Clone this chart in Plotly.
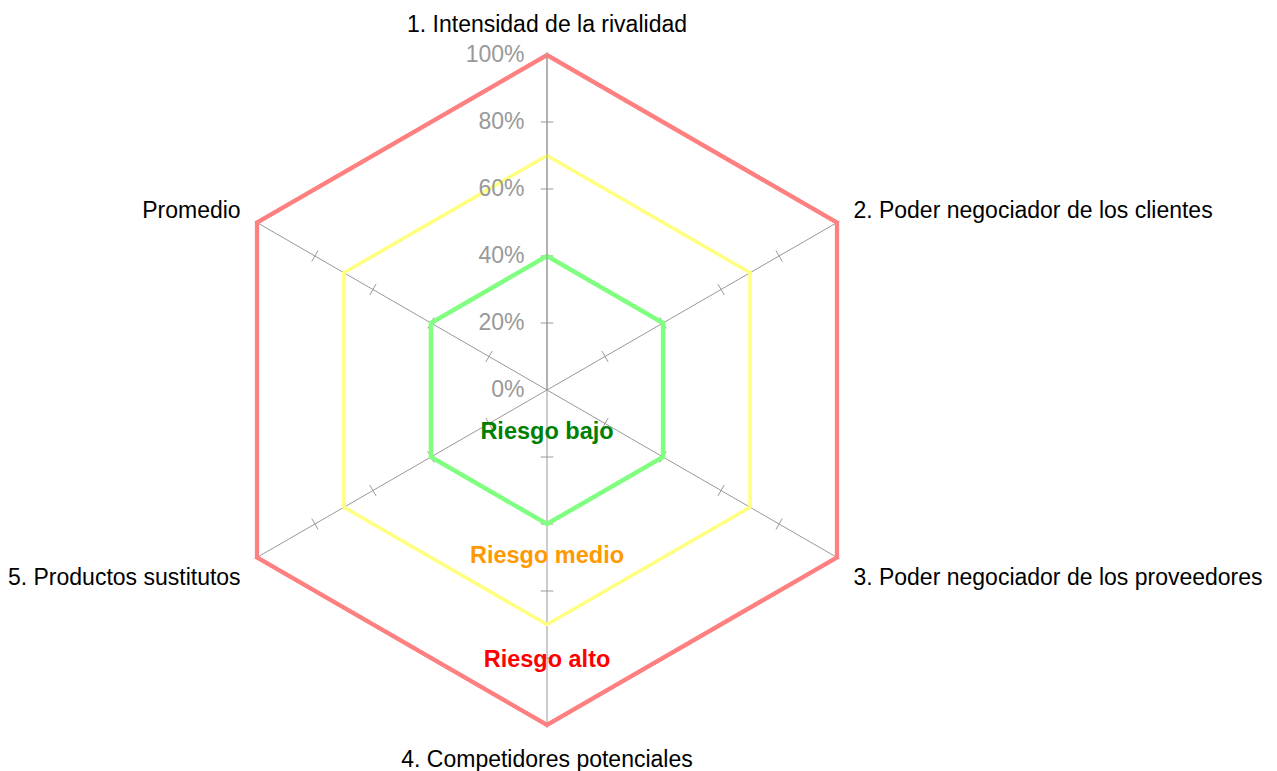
"""Radar chart: Porter five forces risk zones."""

import plotly.graph_objects as go

CATEGORIES = [
    "1. Intensidad de la rivalidad",
    "2. Poder negociador de los clientes",
    "3. Poder negociador de los proveedores",
    "4. Competidores potenciales",
    "5. Productos sustitutos",
    "Promedio",
]
ZONE_NAMES = ["Riesgo alto", "Riesgo medio", "Riesgo bajo"]
ZONE_LEVELS = [1.0, 0.7, 0.4]
ZONE_COLORS = ["#FF8080", "#FFFF80", "#80FF80"]
ZONE_WIDTHS = [4.5, 3.5, 4.5]
LABEL_COLORS = ["#FF0000", "#FF9900", "#008000"]
LABEL_R = [0.81, 0.50, 0.13]
TICK_VALS = [0, 0.2, 0.4, 0.6, 0.8, 1.0]
SPOKE_TICKS = [0.2, 0.4, 0.6, 0.8]

GRAY = "#999999"
FONT = "Liberation Sans, Arial, sans-serif"
R_MAX = 1.008
R_PX = 335 * R_MAX
CX, CY = 539, 382  # plotly centre, tuned to land at (547, 390)

fig = go.Figure()

# spoke tick marks (cross ticks on every axis)
for k, cat in enumerate(CATEGORIES):
    fig.add_trace(go.Scatterpolar(
        r=SPOKE_TICKS,
        theta=[cat] * len(SPOKE_TICKS),
        mode="markers",
        marker=dict(symbol="line-ew", size=9, angle=60 * k,
                    line=dict(color=GRAY, width=1)),
        hoverinfo="skip",
        showlegend=False,
    ))

for name, lvl, color, width in zip(ZONE_NAMES, ZONE_LEVELS, ZONE_COLORS, ZONE_WIDTHS):
    fig.add_trace(go.Scatterpolar(
        r=[lvl] * (len(CATEGORIES) + 1),
        theta=CATEGORIES + CATEGORIES[:1],
        mode="lines",
        line=dict(color=color, width=width),
        name=name,
        showlegend=False,
    ))

fig.add_trace(go.Scatterpolar(
    r=LABEL_R,
    theta=[CATEGORIES[3]] * len(LABEL_R),
    mode="text",
    text=[f"<b>{n}</b>" for n in ZONE_NAMES],
    textfont=dict(color=LABEL_COLORS, size=23.5, family=FONT),
    textposition="middle center",
    hoverinfo="skip",
    showlegend=False,
))

fig.update_layout(
    width=1277,
    height=771,
    paper_bgcolor="white",
    plot_bgcolor="white",
    margin=dict(l=0, r=0, t=0, b=0),
    font=dict(family=FONT, color="black", size=20),
    showlegend=False,
    polar=dict(
        domain=dict(
            x=[(CX - R_PX) / 1277, (CX + R_PX) / 1277],
            y=[(771 - CY - R_PX) / 771, (771 - CY + R_PX) / 771],
        ),
        gridshape="linear",
        bgcolor="white",
        angularaxis=dict(
            direction="clockwise",
            rotation=90,
            showgrid=True,
            gridcolor=GRAY,
            gridwidth=1,
            showline=False,
            ticks="outside",
            ticklen=11,
            tickcolor="rgba(0,0,0,0)",
            tickfont=dict(size=23, color="black"),
        ),
        radialaxis=dict(
            range=[0, R_MAX],
            angle=90,
            tickvals=TICK_VALS,
            tickformat=".0%",
            tickangle=90,
            showgrid=False,
            showline=True,
            linecolor=GRAY,
            linewidth=1,
            ticks="outside",
            ticklen=14,
            tickcolor="rgba(0,0,0,0)",
            tickfont=dict(size=23, color=GRAY),
            side="counterclockwise",
        ),
    ),
)

fig.write_html("out.html")
